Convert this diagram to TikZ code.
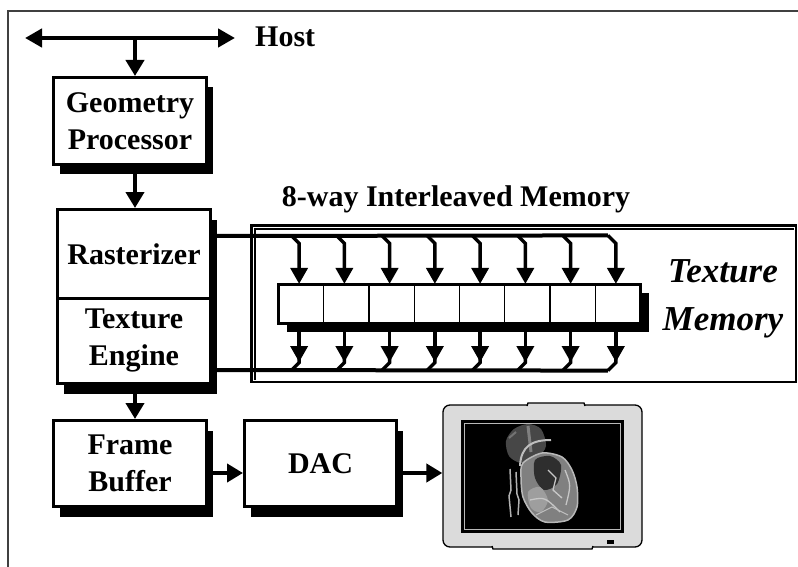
\documentclass[tikz,border=0pt]{standalone}
\usepackage{fontspec}
\setmainfont{Liberation Serif}
\usetikzlibrary{arrows.meta,calc,shadows}
\tikzset{
  blk/.style={draw,line width=3pt,fill=white,minimum width=153pt,minimum height=87pt,inner sep=0pt,
    align=center,font=\bfseries\fontsize{30}{37}\selectfont,
    drop shadow={shadow xshift=6pt,shadow yshift=-10pt,fill=black,opacity=1}},
  lbl/.style={inner sep=0pt,font=\bfseries\fontsize{30}{37}\selectfont},
  italic lbl/.style={inner sep=0pt,align=center,font=\bfseries\itshape\fontsize{35}{48}\selectfont},
  flow/.style={line width=4.5pt,-{Triangle[length=16pt,width=18pt]}},
  host bus/.style={line width=4.5pt,{Triangle[length=17pt,width=18pt]}-{Triangle[length=17pt,width=18pt]}},
  bus/.style={line width=4pt,line join=miter},
  branch/.style={line width=3.5pt,-{Triangle[length=16pt,width=17pt]}},
  membox/.style={draw,line width=2.5pt,minimum width=544.5pt,minimum height=156.5pt,inner sep=0pt},
  strip/.style={draw,line width=3pt,fill=white,minimum width=362pt,minimum height=39pt,inner sep=0pt,
    drop shadow={shadow xshift=8pt,shadow yshift=-8pt,fill=black,opacity=1}},
  cell/.style={draw,line width=1.2pt,minimum width=45.25pt,minimum height=39pt,inner sep=0pt},
  monitor/.style={draw,line width=1.3pt,fill=black!14,rounded corners=7pt,minimum width=199pt,minimum height=142pt},
  screen/.style={draw,line width=1.3pt,fill=black,minimum width=161pt,minimum height=111pt,inner sep=0pt},
  frameline/.style={line width=2pt,black!75},
}

\begin{document}
\begin{tikzpicture}[x=1pt,y=-1pt]
  \useasboundingbox (0,0) rectangle (798,567);
  \draw[frameline] (798,11) -| (8,567);

  % host bus and the pipeline column
  \coordinate (hostL) at (25,38);
  \coordinate (hostR) at (235,38);
  \coordinate (hostT) at (135,38);
  \draw[host bus] (hostL) -- (hostR);
  \node[lbl,anchor=base west] (host) at (255,47) {Host};

  \node[membox] (texmem) at (523.5,303.5) {};
  \draw[line width=1.2pt] ($(texmem.south west)+(5,-3)$) |- ($(texmem.north east)+(-3,5)$);

  \node[blk] (geo) at (130,121) {Geometry\\Processor};
  \node[blk,minimum height=88.5pt] (raster) at (134,253.75) {Rasterizer};
  \node[blk,minimum height=85.5pt] (texeng) at (134,340.75) {Texture\\Engine};
  \node[blk,minimum height=86pt] (frame) at (130,463.5) {Frame\\Buffer};
  \node[blk,minimum width=152pt,minimum height=86pt] (dac) at (320.5,463.5) {DAC};

  \draw[flow] (hostT) -- (hostT |- geo.north);
  \draw[flow] ([xshift=5pt]geo.south) -- ([xshift=1pt]raster.north);
  \draw[flow] ([xshift=1pt]texeng.south) -- ([xshift=5pt]frame.north);

  % texture memory banks
  \node[lbl,anchor=base] (ilv) at (456,206) {8-way Interleaved Memory};
  \node[italic lbl] (tmlbl) at (723,299) {Texture\\Memory};
  \node[strip] (strip) at (459.5,304) {};
  \foreach \i in {1,...,8}
    \node[cell] (m\i) at ({278.5+45.25*(\i-0.5)},304) {};

  \coordinate (tbus) at (0,236);
  \coordinate (bbus) at (0,370);
  \draw[bus] (raster.east |- tbus) -- ($(m8.north)+(-10,-48.5)$);
  \draw[bus] (texeng.east |- bbus) -- ($(m8.south)+(-10,46.5)$);
  \foreach \i in {1,...,8}{
    \draw[branch] ($(m\i.north)+(-10,-48.5)$) -- ($(m\i.north)+(-2,-40.5)$) -- ($(m\i.north)+(-2,0)$);
    \draw[branch] ($(m\i.south)+(-2,0)$) -- ($(m\i.south)+(-2,38)$);
    \draw[line width=3.5pt] ($(m\i.south)+(-2,33)$) -- ($(m\i.south)+(-2,38.5)$) -- ($(m\i.south)+(-10,46.5)$);
  }

  % display
  \node[monitor] (mon) at (542.5,476) {};
  \draw[line width=1.3pt,fill=black!14] (527,406) -- (528,403) -- (584,403) -- (585,406);
  \draw[line width=1.3pt,fill=black!14] (492,546) -- (493,549) -- (592,549) -- (593,546);
  \node[screen] (scr) at (542.5,476.5) {};
  \draw[gray!55,line width=1.2pt] ($(scr.north west)+(3,3)$) rectangle ($(scr.south east)+(-3,-3)$);
  \fill (607,540) rectangle (614,544);

  % heart on the screen
  \fill[black!72] plot[smooth cycle] coordinates {(506,441) (514,429) (528,424) (541,429) (546,446) (537,458) (521,463) (509,456)};
  \draw[black!50,line width=3pt] (528,426) -- (531,452);
  \draw[black!55,line width=2pt] (509,438) -- (516,432);
  \draw[black!28,line width=1.5pt,fill=black!50] plot[smooth cycle] coordinates {(523,463) (542,453) (562,457) (572,470) (577,487) (577,507) (568,520) (545,522) (532,513) (523,497) (521,477)};
  \fill[black!82] plot[smooth cycle] coordinates {(535,460) (550,456) (561,465) (557,484) (544,490) (535,478)};
  \fill[black!38] plot[smooth cycle] coordinates {(528,492) (540,487) (548,500) (541,512) (531,508)};
  \draw[black!22,line width=1.3pt] (548,470) -- (556,478) -- (553,490) -- (562,498);
  \draw[black!22,line width=1.3pt] (530,500) .. controls (545,497) .. (560,512);
  \draw[black!22,line width=1.3pt] (565,470) .. controls (571,485) .. (566,505);
  \draw[black!25,line width=1.1pt] (536,515) -- (552,507) -- (568,515);
  \draw[black!25,line width=2pt] (520,466) .. controls (521,446) and (532,440) .. (551,440);
  \draw[black!30,line width=1.5pt] (510,469) -- (511,490) -- (509,496) -- (511,517);
  \draw[black!30,line width=1.5pt] (516,472) -- (517,494) -- (519,500) -- (518,515);

  % output path
  \coordinate (fbline) at (0,473);
  \draw[flow] (frame.east |- fbline) -- (dac.west |- fbline);
  \draw[flow] (dac.east |- fbline) -- (mon.west |- fbline);
\end{tikzpicture}
\end{document}
